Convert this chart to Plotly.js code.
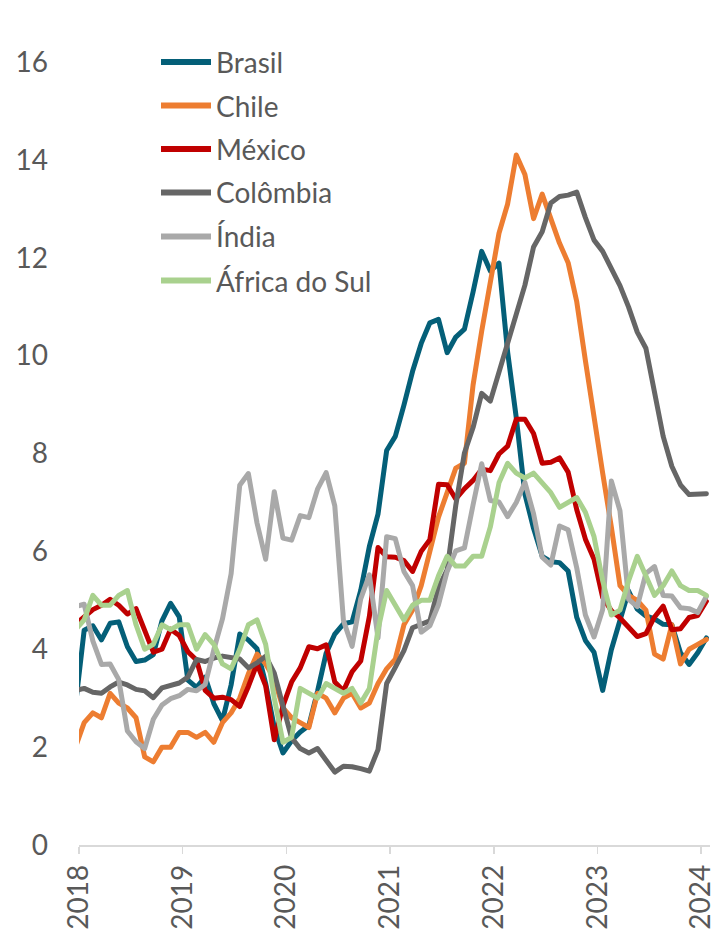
<!DOCTYPE html>
<html>
<head>
<meta charset="utf-8">
<script src="https://cdn.plot.ly/plotly-3.0.1.min.js"></script>
<style>
  html, body { margin: 0; padding: 0; background: #ffffff; }
  #chart { width: 712px; height: 930px; }
  .scatterlayer path.js-line { stroke-linejoin: round; stroke-linecap: round; }
</style>
</head>
<body>
<div id="chart"></div>
<script>
// ---- Data (monthly) ----
const seriesNames = ['Brasil', 'Chile', 'México', 'Colômbia', 'Índia', 'África do Sul'];
const seriesColors = ['#045f78', '#ed7d31', '#c00000', '#666666', '#a9a9a9', '#a9d18e'];

const brasil = [2.86, 4.39, 4.48, 4.19, 4.53, 4.56, 4.05, 3.75,
  3.78, 3.89, 4.58, 4.94, 4.66, 3.37, 3.22, 3.43, 2.89, 2.54, 3.27, 4.31,
  4.19, 4.01, 3.30, 2.40, 1.88, 2.13, 2.31, 2.44, 3.14, 3.92, 4.31, 4.52,
  4.56, 5.20, 6.10, 6.76, 8.06, 8.35, 8.99, 9.68, 10.25, 10.67, 10.74, 10.06,
  10.38, 10.54, 11.30, 12.13, 11.73, 11.89, 10.07, 8.73, 7.17, 6.47, 5.90, 5.79,
  5.77, 5.60, 4.65, 4.18, 3.94, 3.16, 3.99, 4.61, 5.19, 4.82, 4.68, 4.62,
  4.51, 4.50, 3.93, 3.69, 3.93, 4.23];

const chile = [2.0, 2.5, 2.7, 2.6, 3.1, 2.9, 2.8, 2.6,
  1.8, 1.7, 2.0, 2.0, 2.3, 2.3, 2.2, 2.3, 2.1, 2.5, 2.7, 3.0,
  3.5, 3.9, 3.7, 3.4, 2.8, 2.6, 2.5, 2.4, 3.1, 3.0, 2.7, 3.0,
  3.1, 2.8, 2.9, 3.3, 3.6, 3.8, 4.5, 4.8, 5.3, 6.0, 6.7, 7.2,
  7.7, 7.8, 9.4, 10.5, 11.5, 12.5, 13.1, 14.1, 13.7, 12.8, 13.3, 12.8,
  12.3, 11.9, 11.1, 9.9, 8.7, 7.6, 6.5, 5.3, 5.1, 5.0, 4.8, 3.9,
  3.8, 4.5, 3.7, 4.0, 4.1, 4.2];

const mexico = [4.51, 4.65, 4.81, 4.90, 5.02, 4.90, 4.72, 4.83,
  4.37, 3.94, 4.00, 4.41, 4.28, 3.95, 3.78, 3.16, 3.00, 3.02, 2.97, 2.83,
  3.24, 3.70, 3.25, 2.15, 2.84, 3.33, 3.62, 4.05, 4.01, 4.09, 3.33, 3.15,
  3.54, 3.76, 4.67, 6.08, 5.89, 5.88, 5.81, 5.59, 6.00, 6.24, 7.37, 7.36,
  7.07, 7.28, 7.45, 7.68, 7.65, 7.99, 8.15, 8.70, 8.70, 8.41, 7.80, 7.82,
  7.91, 7.62, 6.85, 6.25, 5.84, 5.06, 4.79, 4.64, 4.45, 4.26, 4.32, 4.66,
  4.88, 4.40, 4.42, 4.65, 4.69, 4.98];

const colombia = [3.16, 3.20, 3.12, 3.10, 3.23, 3.33, 3.27, 3.18,
  3.15, 3.01, 3.21, 3.25, 3.31, 3.43, 3.79, 3.75, 3.82, 3.86, 3.84, 3.80,
  3.62, 3.72, 3.86, 3.51, 2.85, 2.19, 1.97, 1.88, 1.97, 1.75, 1.49, 1.61,
  1.60, 1.56, 1.51, 1.95, 3.30, 3.63, 3.97, 4.44, 4.51, 4.58, 5.26, 5.62,
  6.94, 8.01, 8.53, 9.23, 9.07, 9.67, 10.21, 10.84, 11.44, 12.22, 12.53, 13.12,
  13.25, 13.28, 13.34, 12.82, 12.36, 12.13, 11.78, 11.43, 10.99, 10.48, 10.15, 9.28,
  8.35, 7.74, 7.36, 7.16, 7.16, 7.18];

const india = [4.87, 4.92, 4.17, 3.69, 3.70, 3.38, 2.33, 2.11,
  1.97, 2.57, 2.86, 2.99, 3.05, 3.18, 3.15, 3.28, 3.99, 4.62, 5.54, 7.35,
  7.59, 6.58, 5.84, 7.22, 6.27, 6.23, 6.73, 6.69, 7.27, 7.61, 6.93, 4.59,
  4.06, 5.03, 5.52, 4.23, 6.30, 6.26, 5.59, 5.30, 4.35, 4.48, 4.91, 5.59,
  6.01, 6.07, 6.95, 7.79, 7.04, 7.01, 6.71, 7.00, 7.41, 6.77, 5.88, 5.72,
  6.52, 6.44, 5.66, 4.70, 4.25, 4.81, 7.44, 6.83, 5.02, 4.87, 5.55, 5.69,
  5.10, 5.09, 4.85, 4.83, 4.75, 5.08];

const africaSul = [4.4, 4.6, 5.1, 4.9, 4.9, 5.1, 5.2, 4.5,
  4.0, 4.1, 4.5, 4.4, 4.5, 4.5, 4.0, 4.3, 4.1, 3.7, 3.6, 4.0,
  4.5, 4.6, 4.1, 3.0, 2.1, 2.2, 3.2, 3.1, 3.0, 3.3, 3.2, 3.1,
  3.2, 2.9, 3.2, 4.4, 5.2, 4.9, 4.6, 4.9, 5.0, 5.0, 5.5, 5.9,
  5.7, 5.7, 5.9, 5.9, 6.5, 7.4, 7.8, 7.6, 7.5, 7.6, 7.4, 7.2,
  6.9, 7.0, 7.1, 6.8, 6.3, 5.4, 4.7, 4.8, 5.4, 5.9, 5.5, 5.1,
  5.3, 5.6, 5.3, 5.2, 5.2, 5.1];

const yearTicks = [2018, 2019, 2020, 2021, 2022, 2023, 2024];
const yearLabels = ['2018', '2019', '2020', '2021', '2022', '2023', '2024'];
const yTicks = [0, 2, 4, 6, 8, 10, 12, 14, 16];

// ---- Build traces ----
const allSeries = [brasil, chile, mexico, colombia, india, africaSul];
// monthly points placed on the year axis as drawn in the reference
const xMonths = brasil.map((_, k) => 2018 + (k - 0.4) / 12);

const traces = allSeries.map((vals, i) => ({
  type: 'scatter',
  mode: 'lines',
  name: seriesNames[i],
  x: xMonths,
  y: vals,
  line: { color: seriesColors[i], width: 5 },
  showlegend: false,
  hoverinfo: 'skip'
}));

// ---- Layout ----
const W = 712, H = 930;
const M = { l: 79, r: 2, t: 62, b: 85 };
const pw = W - M.l - M.r, ph = H - M.t - M.b;
const px2paperX = (px) => (px - M.l) / pw;
const py2paperY = (py) => (H - M.b - py) / ph;

const textColor = '#595959';
const fontFam = 'Lato, "Open Sans", sans-serif';

// custom legend (line sample + label) from names/colors
const legendRows = [62, 105.5, 149, 192.5, 236.5, 280.5];
const shapes = seriesNames.map((n, i) => ({
  type: 'line', xref: 'paper', yref: 'paper',
  x0: px2paperX(161), x1: px2paperX(211),
  y0: py2paperY(legendRows[i]), y1: py2paperY(legendRows[i]),
  line: { color: seriesColors[i], width: 6 }
}));
const annotations = seriesNames.map((n, i) => ({
  xref: 'paper', yref: 'paper',
  x: px2paperX(214), y: py2paperY(legendRows[i]),
  xanchor: 'left', yanchor: 'middle',
  text: n, showarrow: false,
  font: { family: fontFam, size: 28, color: textColor }
}));

const layout = {
  width: W, height: H,
  margin: M,
  paper_bgcolor: '#ffffff',
  plot_bgcolor: '#ffffff',
  showlegend: false,
  font: { family: fontFam, size: 28, color: textColor },
  xaxis: {
    range: [2018, 2018 + (710 - 79) / 103.7],
    tickmode: 'array',
    tickvals: yearTicks,
    ticktext: yearLabels,
    tickangle: -90,
    ticks: 'outside',
    ticklen: 7,
    tickwidth: 1.5,
    tickcolor: '#d9d9d9',
    ticklabeloverflow: 'allow',
    showline: true,
    linecolor: '#d9d9d9',
    linewidth: 1.5,
    showgrid: false,
    zeroline: false,
    tickfont: { family: fontFam, size: 28, color: textColor }
  },
  yaxis: {
    range: [0, 16],
    tickmode: 'array',
    tickvals: yTicks,
    ticktext: yTicks.map(String),
    ticks: '',
    ticklabelstandoff: 30,
    showline: false,
    showgrid: false,
    zeroline: false,
    tickfont: { family: fontFam, size: 28, color: textColor }
  },
  shapes: shapes,
  annotations: annotations
};

Plotly.newPlot('chart', traces, layout, { displayModeBar: false, staticPlot: true });
</script>
</body>
</html>
